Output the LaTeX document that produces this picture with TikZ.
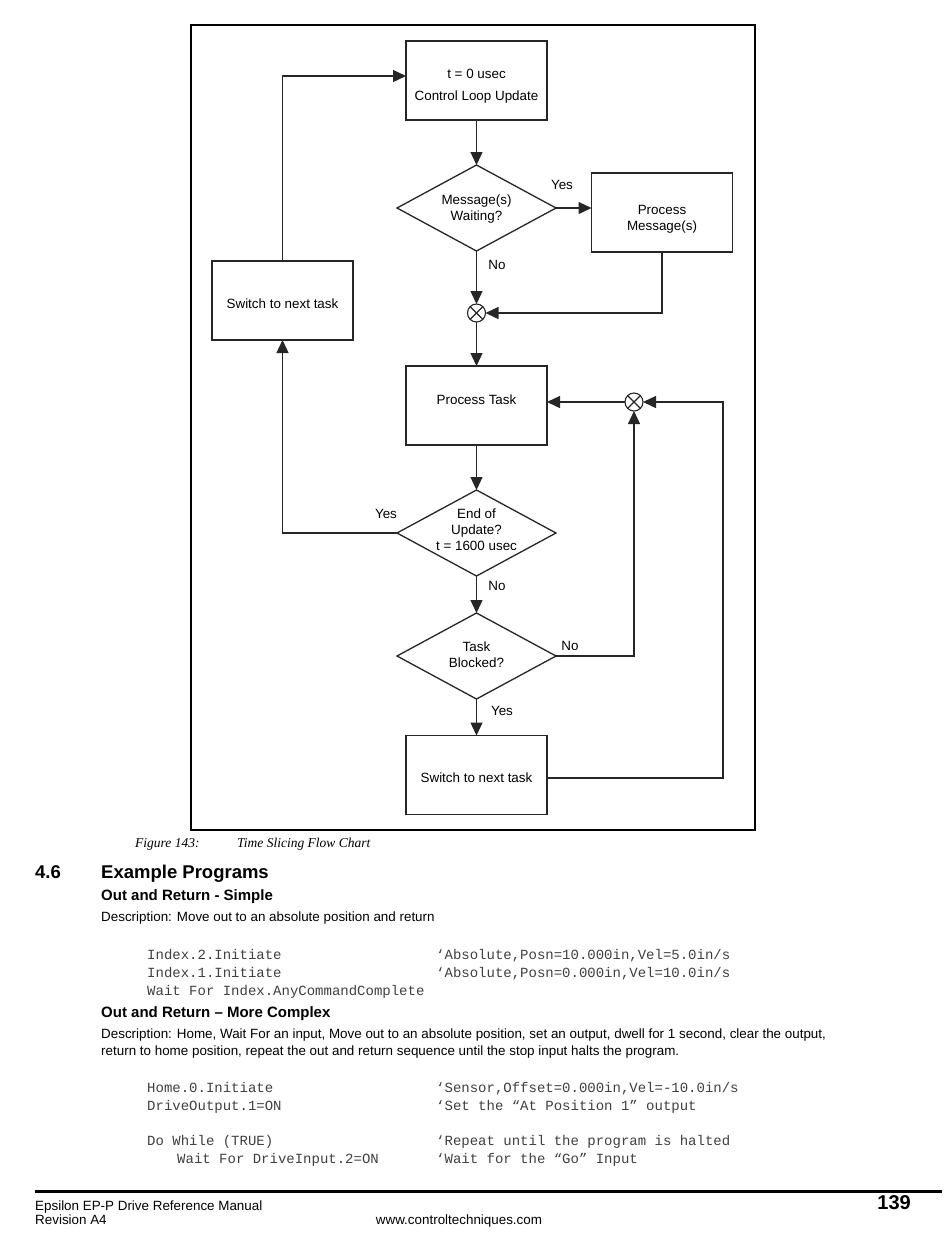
\documentclass[tikz,border=0pt]{standalone}
\usepackage{fontspec}
\usetikzlibrary{arrows.meta,shapes.geometric,calc}
\setmainfont{Liberation Sans}
\newfontfamily\codefont{Liberation Mono}
\newfontfamily\seriffont{Liberation Serif}
\colorlet{lc}{black!85}
\begin{document}
\begin{tikzpicture}[x=1pt,y=-1pt,
  box/.style={draw=lc, line width=1.3pt, minimum width=141pt, minimum height=79pt, inner sep=0pt, outer sep=0pt},
  dia/.style={draw=lc, diamond, line width=1.3pt, minimum width=159pt, minimum height=86pt, inner sep=0pt, outer sep=0pt},
  junc/.style={draw=lc, circle, line width=1.1pt, minimum size=18pt, inner sep=0pt, outer sep=0pt},
  ftxt/.style={font=\fontsize{13.4}{16}\selectfont, align=center, yshift=-1.5pt},
  arr/.style={draw=lc, line width=1.3pt, -{Triangle[length=13pt,width=12pt]}},
  body/.style={font=\fontsize{13.4}{15}\selectfont, anchor=base west, inner sep=0pt},
  head/.style={font=\bfseries\fontsize{15}{18}\selectfont, anchor=base west, inner sep=0pt},
  code/.style={font=\codefont\fontsize{14}{16}\selectfont, text=black!75, anchor=base west, inner sep=0pt},
  capt/.style={font=\seriffont\itshape\fontsize{13.5}{15}\selectfont, anchor=base west, inner sep=0pt},
]
\useasboundingbox (0,0) rectangle (950,1254);
\fill[white] (0,0) rectangle (950,1254);

% frame
\draw[line width=2pt] (191,25) rectangle (755,830);

% nodes
\node[box] (b1) at (476.5,80.5) {};
\node[ftxt] (b1t) at (476.5,85) {t = 0 usec\\[6pt]Control Loop Update};
\node[dia] (d1) at (476.5,208) {};
\node[ftxt] (d1t) at (476.5,208) {Message(s)\\Waiting?};
\node[box] (pm) at (662,212.5) {};
\node[ftxt] (pmt) at (662,218) {Process\\Message(s)};
\node[junc] (j1) at (476.5,313) {};
\node[box] (sw1) at (282.5,300.5) {};
\node[ftxt] (sw1t) at (282.5,302) {Switch to next task};
\node[box] (pt) at (476.5,405.5) {};
\node[ftxt] (ptt) at (476.5,398) {Process Task};
\node[junc] (j2) at (634,402) {};
\node[dia] (d2) at (476.5,533) {};
\node[ftxt] (d2t) at (476.5,528) {End of\\Update?\\t = 1600 usec};
\node[dia] (d3) at (476.5,656) {};
\node[ftxt] (d3t) at (476.5,653) {Task\\Blocked?};
\node[box] (sw2) at (476.5,775) {};
\node[ftxt] (sw2t) at (476.5,776) {Switch to next task};
\coordinate (c1) at (723,402);

% junction crosses
\foreach \j in {j1,j2}{
  \draw[lc, line width=1.1pt] (\j.45) -- (\j.225);
  \draw[lc, line width=1.1pt] (\j.135) -- (\j.315);
}

% connectors
\draw[arr] (b1.south) -- (d1.north);
\draw[arr] (d1.east) -- (d1.east -| pm.west);
\draw[arr] (d1.south) -- (j1.north);
\draw[arr] (pm.south) |- (j1.east);
\draw[arr] (j1.south) -- (pt.north);
\draw[arr] (pt.south) -- (d2.north);
\draw[arr] (d2.west) -| (sw1.south);
\draw[arr] (sw1.north) |- ([yshift=4.5pt]b1.west);
\draw[arr] (d2.south) -- (d3.north);
\draw[arr] (d3.east) -| (j2.south);
\draw[arr] (d3.south) -- (sw2.north);
\draw[arr] ([yshift=-3pt]sw2.east) -- ([yshift=-3pt]sw2.east -| c1) -- (c1) -- (j2.east);
\draw[arr] (j2.west) -- (j2.west -| pt.east);

% labels
\node[ftxt] (l1) at (562,183) {Yes};
\node[ftxt] (l2) at (497,263) {No};
\node[ftxt] (l3) at (386,512) {Yes};
\node[ftxt] (l4) at (497,584) {No};
\node[ftxt] (l5) at (570,644) {No};
\node[ftxt] (l6) at (502,709) {Yes};

% caption
\node[capt] (cap1) at (135,847) {Figure 143:};
\node[capt] (cap2) at (237,847) {Time Slicing Flow Chart};

% section
\node[font=\bfseries\fontsize{18.5}{20}\selectfont, anchor=base west, inner sep=0pt] (s1) at (35,878) {4.6};
\node[font=\bfseries\fontsize{18.5}{20}\selectfont, anchor=base west, inner sep=0pt] (s2) at (101,878) {Example Programs};
\node[head] (h1) at (101,900) {Out and Return - Simple};
\node[body] (p1) at (101,921) {Description: Move out to an absolute position and return};

\node[code] (c11) at (147,959) {Index.2.Initiate};
\node[code] (c12) at (436,959) {‘Absolute,Posn=10.000in,Vel=5.0in/s};
\node[code] (c21) at (147,977) {Index.1.Initiate};
\node[code] (c22) at (436,977) {‘Absolute,Posn=0.000in,Vel=10.0in/s};
\node[code] (c31) at (147,995) {Wait For Index.AnyCommandComplete};

\node[head] (h2) at (101,1017) {Out and Return – More Complex};
\node[body] (p2) at (101,1038) {Description: Home, Wait For an input, Move out to an absolute position, set an output, dwell for 1 second, clear the output,};
\node[body] (p3) at (101,1055) {return to home position, repeat the out and return sequence until the stop input halts the program.};

\node[code] (c41) at (147,1092) {Home.0.Initiate};
\node[code] (c42) at (436,1092) {‘Sensor,Offset=0.000in,Vel=-10.0in/s};
\node[code] (c51) at (147,1110) {DriveOutput.1=ON};
\node[code] (c52) at (436,1110) {‘Set the “At Position 1” output};
\node[code] (c61) at (147,1145) {Do While (TRUE)};
\node[code] (c62) at (436,1145) {‘Repeat until the program is halted};
\node[code] (c71) at (177,1163) {Wait For DriveInput.2=ON};
\node[code] (c72) at (436,1163) {‘Wait for the “Go” Input};

% footer
\draw[line width=3pt] (35,1191) -- (942,1191);
\node[body] (f1) at (35,1210) {Epsilon EP-P Drive Reference Manual};
\node[body] (f2) at (35,1224) {Revision A4};
\node[font=\fontsize{13.4}{15}\selectfont, anchor=base, inner sep=0pt] (f3) at (459,1224) {www.controltechniques.com};
\node[font=\bfseries\fontsize{20}{22}\selectfont, anchor=base east, inner sep=0pt] (f4) at (911,1209) {139};
\end{tikzpicture}
\end{document}
